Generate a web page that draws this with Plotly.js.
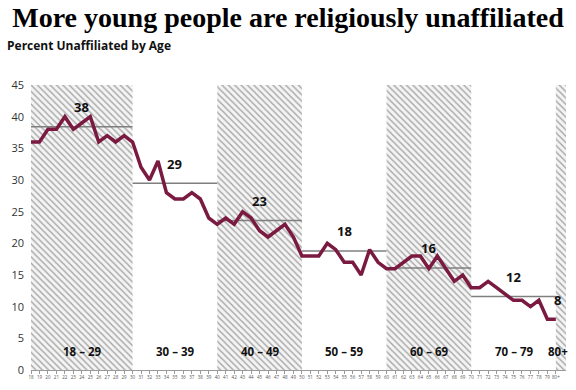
<!DOCTYPE html>
<html>
<head>
<meta charset="utf-8">
<script src="https://cdn.plot.ly/plotly-3.0.1.min.js"></script>
<style>
html,body{margin:0;padding:0;background:#fff;}
#chart{width:576px;height:390px;}
</style>
</head>
<body>
<div id="chart"></div>
<script>
// Ages (80 stands for "80+")
const ages = [];
for (let a = 18; a <= 80; a++) ages.push(a);
const ageTickText = ages.map(a => a === 80 ? '80+' : String(a));

// Percent unaffiliated by single year of age
const pctUnaffiliated = [
  36, 36, 38, 38, 40, 38, 39, 40, 36, 37, 36, 37,   // 18-29
  36, 32, 30, 33, 28, 27, 27, 28, 27, 24,           // 30-39
  23, 24, 23, 25, 24, 22, 21, 22, 23, 21,           // 40-49
  18, 18, 18, 20, 19, 17, 17, 15, 19, 17,           // 50-59
  16, 16, 17, 18, 18, 16, 18, 16, 14, 15,           // 60-69
  13, 13, 14, 13, 12, 11, 11, 10, 11, 8,            // 70-79
  8                                                 // 80+
];

// Age groups
const groupLabels = ['18 – 29', '30 – 39', '40 – 49', '50 – 59', '60 – 69', '70 – 79', '80+'];
const groupStart  = [18, 30, 40, 50, 60, 70, 80];
const groupEnd    = [30, 40, 50, 60, 70, 80, 81.2];
const groupMean   = [38.4, 29.5, 23.6, 18.8, 16.1, 11.6, 8];
const groupMeanLabel = ['38', '29', '23', '18', '16', '12', '8'];
const groupHatched = [true, false, true, false, true, false, true];

const traces = [];

// Hatched bands
const hx = [], hw = [], hy = [];
groupStart.forEach((s, i) => {
  if (groupHatched[i]) {
    hx.push((s + groupEnd[i]) / 2);
    hw.push(groupEnd[i] - s);
    hy.push(45);
  }
});
traces.push({
  type: 'bar', x: hx, y: hy, width: hw,
  marker: {
    color: '#f4f4f4',
    line: {width: 0},
    pattern: {shape: '\\', fgcolor: '#a6a6a6', bgcolor: '#f4f4f4', size: 4.5, solidity: 0.32}
  },
  hoverinfo: 'skip', showlegend: false
});

// Group mean lines
groupStart.forEach((s, i) => {
  if (i === groupStart.length - 1) return;
  traces.push({
    type: 'scatter', mode: 'lines',
    x: [s, groupEnd[i]], y: [groupMean[i], groupMean[i]],
    line: {color: '#7f7f7f', width: 1.5},
    hoverinfo: 'skip', showlegend: false
  });
});

// Main line
traces.push({
  type: 'scatter', mode: 'lines',
  x: ages, y: pctUnaffiliated,
  line: {color: '#7b1a40', width: 3.5},
  hoverinfo: 'skip', showlegend: false
});

const annotations = [];
groupStart.forEach((s, i) => {
  const cx = i === groupStart.length - 1 ? 80.2 : (s + groupEnd[i]) / 2;
  annotations.push({
    x: cx, y: groupMean[i] + 3.1, xref: 'x', yref: 'y',
    text: groupMeanLabel[i], showarrow: false,
    font: {family: 'Open Sans', size: 13, color: '#111', weight: 'bold'}
  });
  annotations.push({
    x: cx, y: 2.9, xref: 'x', yref: 'y',
    text: groupLabels[i], showarrow: false,
    font: {family: 'Open Sans', size: 11.5, color: '#111', weight: 'bold'}
  });
});

const layout = {
  width: 576, height: 390,
  margin: {l: 31, r: 10, t: 85, b: 20},
  paper_bgcolor: '#ffffff', plot_bgcolor: '#ffffff',
  title: {
    text: '<b>More young people are religiously unaffiliated</b>',
    x: 0.5, xanchor: 'center', y: 0.955, yanchor: 'middle',
    font: {family: 'Liberation Serif', size: 28, color: '#000'}
  },
  barmode: 'overlay',
  xaxis: {
    range: [18, 81.2], showgrid: false, zeroline: false,
    tickmode: 'array', tickvals: ages, ticktext: ageTickText,
    tickfont: {family: 'Open Sans', size: 4.5, color: '#555'},
    ticks: 'outside', ticklen: 3, tickcolor: '#999', tickangle: 0,
    showline: true, linecolor: '#999', linewidth: 1, fixedrange: true
  },
  yaxis: {
    range: [0, 45], dtick: 5, showgrid: false, zeroline: false,
    showline: false, ticks: '',
    tickfont: {family: 'Open Sans', size: 11, color: '#333'},
    ticklabelstandoff: 6, fixedrange: true
  },
  annotations: annotations.concat([{
    text: '<b>Percent Unaffiliated by Age</b>',
    xref: 'paper', yref: 'paper', x: -0.049, y: 1.14,
    xanchor: 'left', yanchor: 'middle', showarrow: false,
    font: {family: 'Open Sans', size: 12, color: '#111'}
  }])
};

Plotly.newPlot('chart', traces, layout, {displayModeBar: false, staticPlot: true});
</script>
</body>
</html>
